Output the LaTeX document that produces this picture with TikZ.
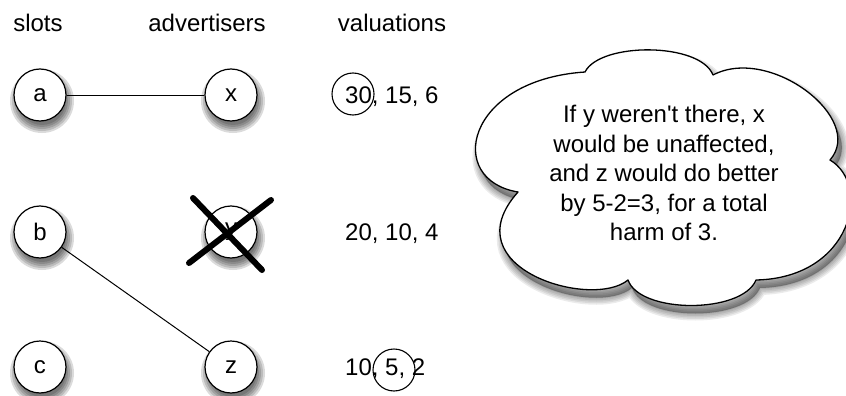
\documentclass[tikz,border=0pt]{standalone}
\usepackage{fontspec}
\setmainfont{Liberation Sans}
\usetikzlibrary{backgrounds}
\def\cloudpath{(585,72) .. controls (600,42) and (700,42) .. (713,75)
  .. controls (770,45) and (866,119) .. (830,160)
  .. controls (872,185) and (852,278) .. (756,280)
  .. controls (742,314) and (640,314) .. (628,280)
  .. controls (592,310) and (450,268) .. (518,192)
  .. controls (445,180) and (465,80) .. (585,72) -- cycle}
\begin{document}
\begin{tikzpicture}[x=1pt,y=-1pt,
  vert/.style={circle,draw,line width=1.2pt,fill=white,minimum size=52pt,inner sep=0pt,font=\fontsize{24}{28}\selectfont},
  lbl/.style={font=\fontsize{24}{28}\selectfont},
  val/.style={font=\fontsize{24}{28}\selectfont,anchor=west,inner sep=0pt},
  ring/.style={circle,draw,line width=1.1pt,minimum size=42pt,inner sep=0pt},
  edge/.style={draw,line width=1pt},
  cross/.style={line width=6pt,line cap=round},
  shad/.style={fill=black,fill opacity=0.14}]
\useasboundingbox (0,0) rectangle (846,396);
\node[lbl] (hs) at (38,23) {slots};
\node[lbl] (ha) at (207,23) {advertisers};
\node[lbl] (hv) at (392,23) {valuations};
\node[vert] (a) at (40,95) {a};
\node[vert] (b) at (40,232) {b};
\node[vert] (c) at (40,367) {c};
\node[vert] (x) at (231,95) {x};
\node[vert] (y) at (231,232) {y};
\node[vert] (z) at (231,367) {z};
\draw[edge] (a) -- (x);
\draw[edge] (b) -- (z);
\coordinate (c1) at (193,198);
\coordinate (c2) at (262,270);
\coordinate (c3) at (271,200);
\coordinate (c4) at (189,263);
\draw[cross] (c1) -- (c2);
\draw[cross] (c3) -- (c4);
\node[val] (v1) at (345,97) {30, 15, 6};
\node[val] (v2) at (345,234) {20, 10, 4};
\node[val] (v3) at (345,369) {10, 5, 2};
\node[ring] (r1) at (353,94) {};
\node[ring] (r2) at (394,370) {};
\begin{scope}[on background layer]
  \foreach \n in {a,b,c,x,y,z}{
    \foreach \r in {24,26,28,30,32}{
      \fill[shad] ([shift={(2,6)}]\n.center) circle[radius=\r];
    }
  }
  \foreach \w in {2,5,8,11,14}{
    \path[shift={(4,8)},fill=black,draw=black,fill opacity=0.08,draw opacity=0.08,line width=\w pt] \cloudpath;
  }
\end{scope}
\path[draw,fill=white,line width=1.3pt,line join=round] \cloudpath;
\node[align=center,font=\fontsize{24}{29.5}\selectfont] (cl) at (664,173)
  {If y weren\textquotesingle t there, x\\would be unaffected,\\and z would do better\\by 5-2=3, for a total\\harm of 3.};
\end{tikzpicture}
\end{document}
